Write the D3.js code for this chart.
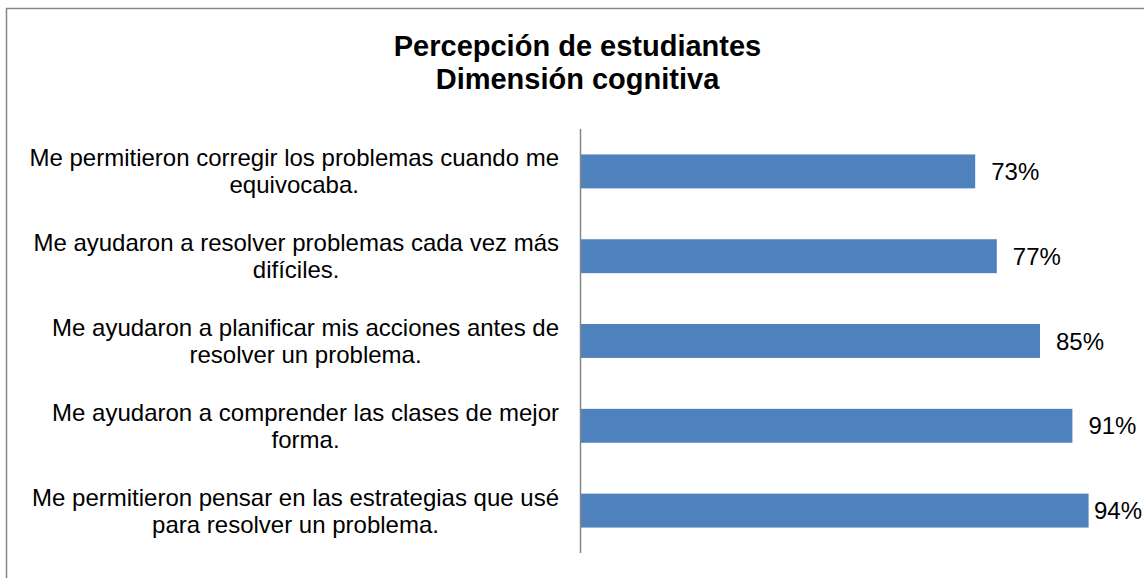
<!DOCTYPE html>
<html>
<head>
  <meta charset="utf-8">
  <script src="https://d3js.org/d3.v7.min.js"></script>
  <style type="text/css">
    body {
      margin: 0;
      background: #fff;
    }
    svg text {
      font-family: Arial, "Liberation Sans", sans-serif;
      fill: #000;
    }
  </style>
</head>
<body>
  <script type="text/javascript">
    // chart data (top to bottom)
    var titleLines = ["Percepción de estudiantes", "Dimensión cognitiva"];
    var categories = [
      "Me permitieron corregir los problemas cuando me\nequivocaba.",
      "Me ayudaron a resolver problemas cada vez más\ndifíciles.",
      "Me ayudaron a planificar mis acciones antes de\nresolver un problema.",
      "Me ayudaron a comprender las clases de mejor\nforma.",
      "Me permitieron pensar en las estrategias que usé\npara resolver un problema."
    ];
    var values = [0.73, 0.77, 0.85, 0.91, 0.94];

    "use strict";
    var width = 1144,
        height = 578;

    var svg = d3.select("body")
      .append("svg")
        .attr("width", width)
        .attr("height", height);

    // chart area frame (runs off the right and bottom edges)
    svg.append("rect")
      .attr("x", 6.5)
      .attr("y", 8.5)
      .attr("width", width + 20)
      .attr("height", height + 20)
      .attr("fill", "#fff")
      .attr("stroke", "#868686")
      .attr("stroke-width", 1.5);

    svg.append("g")
      .selectAll("text")
      .data(titleLines)
      .enter().append("text")
        .attr("x", 577.5)
        .attr("y", function (d, i) { return 56 + i * 32.5; })
        .style("text-anchor", "middle")
        .style("font-size", "29px")
        .style("font-weight", "bold")
        .text(function (d) { return d; });

    var x = d3.scaleLinear()
      .domain([0, 1])
      .range([581, 1121]);

    var y = d3.scaleBand()
      .domain(categories)
      .range([129, 553])
      .paddingInner(0.6)
      .paddingOuter(0.3);

    var rows = categories.map(function (c, i) { return {cat: c, value: values[i]}; });

    svg.append("g")
      .selectAll("rect")
      .data(rows)
      .enter().append("rect")
        .attr("x", x(0))
        .attr("y", function (d) { return y(d.cat); })
        .attr("width", function (d) { return x(d.value) - x(0); })
        .attr("height", y.bandwidth())
        .attr("fill", "#4F81BD");

    // vertical category axis line
    svg.append("line")
      .attr("x1", 580.5)
      .attr("x2", 580.5)
      .attr("y1", y.range()[0])
      .attr("y2", y.range()[1])
      .attr("stroke", "#868686")
      .attr("stroke-width", 1.5);

    // category labels: centred lines, block pushed against the axis
    var labelRight = 559,
        labelLeft = 24,
        lineGap = 27;

    var labels = svg.append("g")
      .selectAll("text")
      .data(rows)
      .enter().append("text")
        .style("font-size", "24px")
        .style("text-anchor", "middle");

    labels.each(function (d) {
      var t = d3.select(this),
          lines = d.cat.split("\n"),
          c = y(d.cat) + y.bandwidth() / 2;
      lines.forEach(function (l, i) {
        t.append("tspan")
          .attr("y", c + (i - (lines.length - 1) / 2) * lineGap + 8.5)
          .text(l);
      });
      var maxW = d3.max(t.selectAll("tspan").nodes(), function (n) { return n.getComputedTextLength(); });
      var left = Math.max(labelLeft, labelRight - maxW);
      t.selectAll("tspan").attr("x", left + maxW / 2);
    });

    // value labels
    svg.append("g")
      .selectAll("text")
      .data(rows)
      .enter().append("text")
        .attr("y", function (d) { return y(d.cat) + y.bandwidth() / 2 + 8.5; })
        .style("font-size", "24px")
        .text(function (d) { return d3.format(".0%")(d.value); })
        .attr("x", function (d) {
          var w = this.getComputedTextLength();
          return Math.min(x(d.value) + 16, 1142 - w);
        });
  </script>
</body>
</html>
